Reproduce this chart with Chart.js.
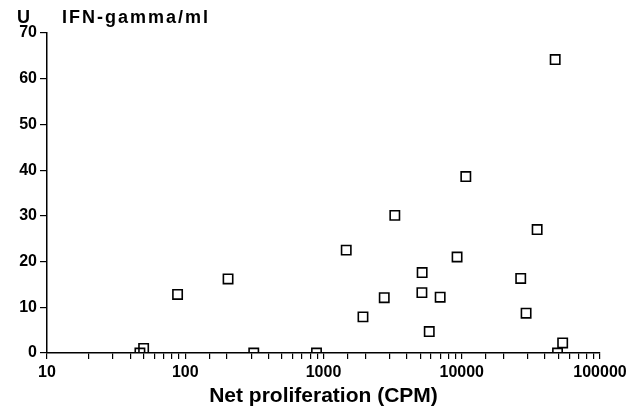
<!DOCTYPE html>
<html>
<head>
<meta charset="utf-8">
<script src="https://cdn.jsdelivr.net/npm/chart.js@4/dist/chart.umd.min.js"></script>
<style>
  html, body { margin: 0; padding: 0; background: #fff; }
  #wrap { width: 641px; height: 409px; }
</style>
</head>
<body>
<div id="wrap"><canvas id="myChart" width="641" height="409"></canvas></div>
<script>
// valores (CPM vs U IFN-gamma/ml)
var cpm = [47, 50, 88, 204, 313, 890, 1460, 1930, 2750, 3280, 5170, 5150, 5820, 6980, 9250, 10700, 26700, 29200, 35100, 47400, 49300, 53700];
var ifn = [0, 1, 12.8, 16.2, 0, 0, 22.5, 7.9, 12.1, 30.1, 17.6, 13.2, 4.7, 12.2, 21.0, 38.6, 16.3, 8.7, 27.0, 64.2, 0, 2.2];
var xTickLabels = [10, 100, 1000, 10000, 100000];
var yTickLabels = [0, 10, 20, 30, 40, 50, 60, 70];

var titulo = "U";
var tituloUnidad = "IFN-gamma/ml";
var tituloX = "Net proliferation (CPM)";

var puntos = [];
for (var i in cpm) {
    puntos.push({ x: cpm[i], y: ifn[i] });
}

// titulo arriba a la izquierda
var tituloPlugin = {
    id: 'tituloPlugin',
    afterDraw: function (chart) {
        var ctx = chart.ctx;
        ctx.save();
        ctx.fillStyle = '#000';
        ctx.font = 'bold 18px "Liberation Sans", Arial, sans-serif';
        ctx.textBaseline = 'alphabetic';
        ctx.fillText(titulo, 17, 23);
        ctx.letterSpacing = '2px';
        ctx.fillText(tituloUnidad, 62, 23);
        ctx.restore();
    }
};

var fuente = { family: '"Liberation Sans", Arial, sans-serif', weight: 'bold', size: 16 };

new Chart(document.getElementById('myChart'), {
    type: 'scatter',
    data: {
        datasets: [{
            label: 'IFN',
            data: puntos,
            pointStyle: 'rect',
            pointRadius: 6.6,
            pointHoverRadius: 6.6,
            borderColor: '#000',
            backgroundColor: 'rgba(0,0,0,0)',
            borderWidth: 1.6
        }]
    },
    options: {
        responsive: false,
        animation: false,
        layout: { padding: { left: 0, right: 41, top: 33, bottom: 0 } },
        plugins: {
            legend: { display: false },
            tooltip: { enabled: false }
        },
        scales: {
            x: {
                type: 'logarithmic',
                min: 10,
                max: 100000,
                border: { display: true, color: '#000', width: 1.5 },
                grid: { drawOnChartArea: false, drawTicks: true, tickLength: 6, color: '#000', lineWidth: 1.2 },
                ticks: {
                    autoSkip: false,
                    maxRotation: 0,
                    color: '#000',
                    font: fuente,
                    padding: 4,
                    callback: function (v) {
                        return xTickLabels.indexOf(v) >= 0 ? String(v) : '';
                    }
                },
                title: {
                    display: true,
                    text: tituloX,
                    color: '#000',
                    font: { family: '"Liberation Sans", Arial, sans-serif', weight: 'bold', size: 21 },
                    padding: { top: 2, bottom: 0 }
                },
                afterFit: function (scale) { scale.height = 56; }
            },
            y: {
                min: 0,
                max: 70,
                border: { display: true, color: '#000', width: 1.5 },
                grid: { drawOnChartArea: false, drawTicks: true, tickLength: 7, color: '#000', lineWidth: 1.2 },
                ticks: {
                    stepSize: 10,
                    color: '#000',
                    font: fuente,
                    padding: 3,
                    callback: function (v) {
                        return yTickLabels.indexOf(v) >= 0 ? String(v) : '';
                    }
                },
                afterFit: function (scale) { scale.width = 47; }
            }
        }
    },
    plugins: [tituloPlugin]
});
</script>
</body>
</html>
